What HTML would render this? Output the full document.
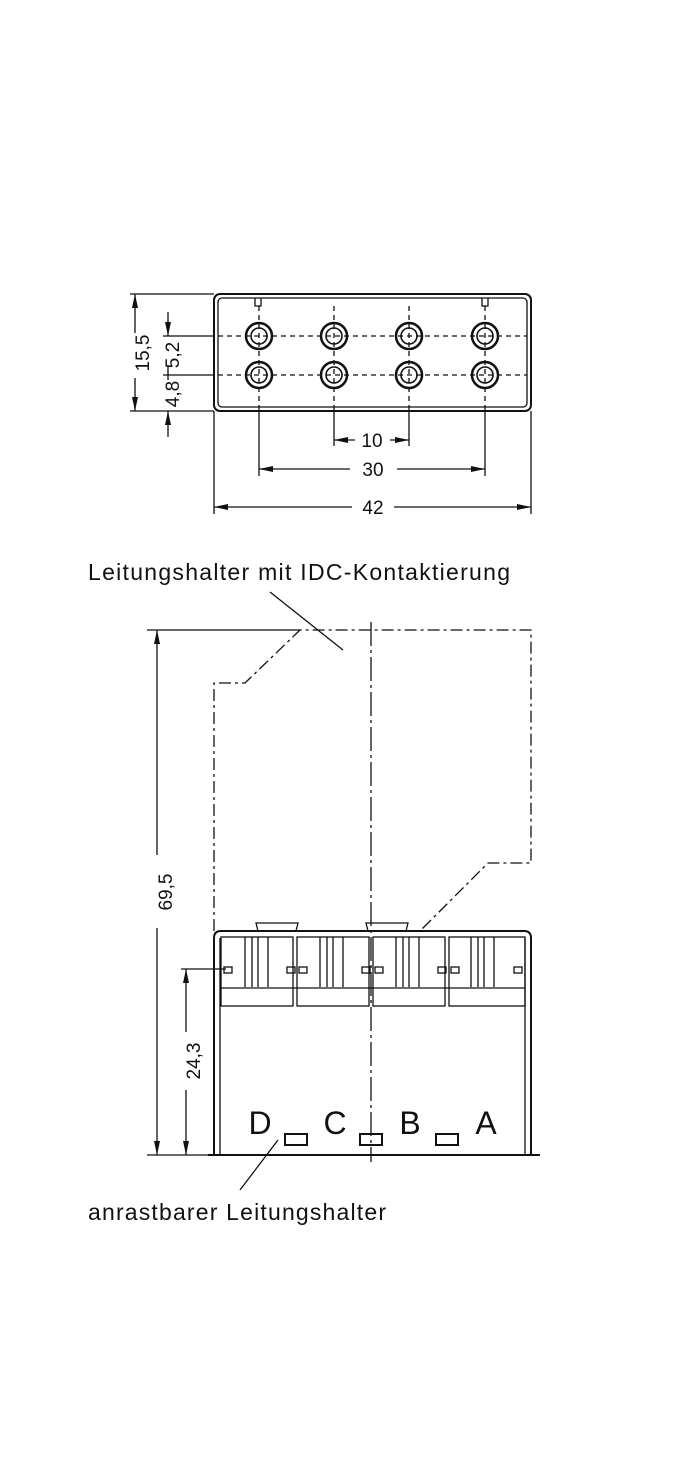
<!DOCTYPE html>
<html><head><meta charset="utf-8"><style>
html,body{margin:0;padding:0;background:#fff;width:697px;height:1465px;overflow:hidden}
svg{display:block}
text{font-family:"Liberation Sans",sans-serif;fill:#111}
</style></head><body>
<svg width="697" height="1465" viewBox="0 0 697 1465" xmlns="http://www.w3.org/2000/svg">
<defs><marker id="a" markerWidth="14" markerHeight="6" refX="14" refY="3" orient="auto-start-reverse" markerUnits="userSpaceOnUse"><path d="M0,0 L14,3 L0,6z" fill="#111"/></marker></defs>
<g stroke="#111" fill="none" stroke-width="1.3">
<rect x="214" y="294" width="317" height="117" rx="6" stroke-width="2"/>
<rect x="218" y="298" width="309" height="109" rx="4"/>
<path d="M255,298v8h6v-8M482,298v8h6v-8" />
<g stroke-dasharray="5,4">
<line x1="218" y1="336" x2="527" y2="336"/><line x1="218" y1="375" x2="527" y2="375"/>
<line x1="259" y1="306" x2="259" y2="407"/><line x1="334" y1="306" x2="334" y2="407"/>
<line x1="409" y1="306" x2="409" y2="407"/><line x1="485" y1="306" x2="485" y2="407"/>
</g>
<g stroke-width="2.5">
<circle cx="259" cy="336" r="13"/><circle cx="334" cy="336" r="13"/><circle cx="409" cy="336" r="13"/><circle cx="485" cy="336" r="13"/>
<circle cx="259" cy="375" r="13"/><circle cx="334" cy="375" r="13"/><circle cx="409" cy="375" r="13"/><circle cx="485" cy="375" r="13"/>
</g>
<g stroke-width="1.6">
<circle cx="259" cy="336" r="8"/><circle cx="334" cy="336" r="8"/><circle cx="409" cy="336" r="8"/><circle cx="485" cy="336" r="8"/>
<circle cx="259" cy="375" r="8"/><circle cx="334" cy="375" r="8"/><circle cx="409" cy="375" r="8"/><circle cx="485" cy="375" r="8"/>
</g>
<line x1="130" y1="294" x2="214" y2="294"/><line x1="130" y1="411" x2="214" y2="411"/>
<line x1="135" y1="294" x2="135" y2="333" marker-start="url(#a)"/><line x1="135" y1="378" x2="135" y2="411" marker-end="url(#a)"/>
<line x1="163" y1="336" x2="214" y2="336"/><line x1="163" y1="375" x2="214" y2="375"/>
<line x1="168" y1="312" x2="168" y2="336" marker-end="url(#a)"/>
<line x1="168" y1="437" x2="168" y2="411" marker-end="url(#a)"/>
<line x1="168" y1="366" x2="168" y2="380"/>
<line x1="259" y1="407" x2="259" y2="476"/><line x1="334" y1="407" x2="334" y2="446"/>
<line x1="409" y1="407" x2="409" y2="446"/><line x1="485" y1="407" x2="485" y2="476"/>
<line x1="214" y1="411" x2="214" y2="514"/><line x1="531" y1="411" x2="531" y2="514"/>
<line x1="355" y1="440" x2="334" y2="440" marker-end="url(#a)"/><line x1="390" y1="440" x2="409" y2="440" marker-end="url(#a)"/>
<line x1="350" y1="469" x2="259" y2="469" marker-end="url(#a)"/><line x1="397" y1="469" x2="485" y2="469" marker-end="url(#a)"/>
<line x1="352" y1="507" x2="214" y2="507" marker-end="url(#a)"/><line x1="394" y1="507" x2="531" y2="507" marker-end="url(#a)"/>
<path d="M214,931 V683 H245 L300,630 H531 V863 H488 L420,931" stroke-dasharray="12,4,3,4"/>
<line x1="371" y1="622" x2="371" y2="1162" stroke-dasharray="24,4,3,4"/>
<path d="M214,1155 V938 Q214,931 221,931 H524 Q531,931 531,938 V1155 Z" stroke-width="2"/>
<line x1="220" y1="938" x2="220" y2="1155"/><line x1="525" y1="938" x2="525" y2="1155"/>
<line x1="208" y1="1155" x2="540" y2="1155" stroke-width="2"/>
<g>
<rect x="221" y="937" width="72" height="69"/><rect x="297" y="937" width="72" height="69"/><rect x="373" y="937" width="72" height="69"/><rect x="449" y="937" width="76" height="69"/>
<line x1="221" y1="988" x2="525" y2="988"/>
<path d="M245,937v50M252,937v50M258,937v50M268,937v50M320,937v50M327,937v50M333,937v50M343,937v50M396,937v50M403,937v50M409,937v50M419,937v50M471,937v50M478,937v50M484,937v50M494,937v50"/>
<rect x="224" y="967" width="8" height="6"/><rect x="287" y="967" width="8" height="6"/><rect x="299" y="967" width="8" height="6"/><rect x="362" y="967" width="8" height="6"/><rect x="375" y="967" width="8" height="6"/><rect x="438" y="967" width="8" height="6"/><rect x="451" y="967" width="8" height="6"/><rect x="514" y="967" width="8" height="6"/>
<path d="M258,931 l-2,-8 h42 l-2,8 M368,931 l-2,-8 h42 l-2,8"/>
</g>
<g stroke-width="2"><rect x="285" y="1134" width="22" height="11"/><rect x="360" y="1134" width="22" height="11"/><rect x="436" y="1134" width="22" height="11"/></g>
<line x1="147" y1="630" x2="300" y2="630"/><line x1="147" y1="1155" x2="214" y2="1155"/>
<line x1="157" y1="855" x2="157" y2="630" marker-end="url(#a)"/><line x1="157" y1="928" x2="157" y2="1155" marker-end="url(#a)"/>
<line x1="181" y1="969" x2="226" y2="969"/>
<line x1="186" y1="1032" x2="186" y2="969" marker-end="url(#a)"/><line x1="186" y1="1090" x2="186" y2="1155" marker-end="url(#a)"/>
<line x1="270" y1="592" x2="343" y2="650"/>
<line x1="240" y1="1190" x2="278" y2="1140"/>
</g>
<g font-size="19">
<text transform="translate(149,353) rotate(-90)" text-anchor="middle">15,5</text>
<text transform="translate(179,355) rotate(-90)" text-anchor="middle">5,2</text>
<text transform="translate(179,394) rotate(-90)" text-anchor="middle">4,8</text>
<text x="372" y="447" text-anchor="middle">10</text>
<text x="373" y="476" text-anchor="middle">30</text>
<text x="373" y="514" text-anchor="middle">42</text>
<text transform="translate(172,892) rotate(-90)" text-anchor="middle">69,5</text>
<text transform="translate(200,1061) rotate(-90)" text-anchor="middle">24,3</text>
</g>
<g font-size="32"><text x="260" y="1134" text-anchor="middle">D</text><text x="335" y="1134" text-anchor="middle">C</text><text x="410" y="1134" text-anchor="middle">B</text><text x="486" y="1134" text-anchor="middle">A</text></g>
<text x="88" y="580" font-size="23" textLength="422" lengthAdjust="spacing">Leitungshalter mit IDC-Kontaktierung</text>
<text x="88" y="1220" font-size="23" textLength="298" lengthAdjust="spacing">anrastbarer Leitungshalter</text>
</svg>
</body></html>
